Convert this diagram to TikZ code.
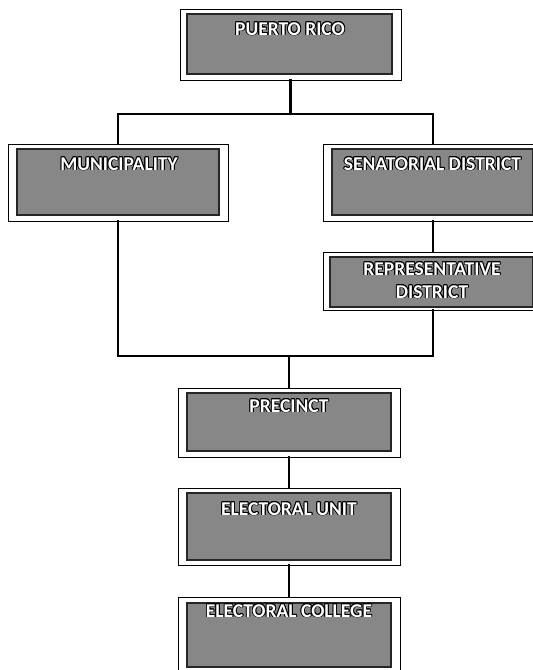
\documentclass[tikz,border=0pt]{standalone}
\usepackage{fontspec}
\setmainfont{Carlito}
\usepackage{contour}
\contourlength{0.9pt}
\contournumber{12}
\begin{document}
\begin{tikzpicture}[x=1pt,y=-1pt,
  outerbox/.style={draw=black, line width=0.9pt, fill=white, inner sep=0pt},
  innerbox/.style={draw=black!85, line width=1.2pt, fill=black!47, inner sep=0pt},
  lbl/.style={text=white, font=\fontsize{19.5}{22}\selectfont\bfseries, inner sep=0pt, anchor=base},
  conn/.style={draw=black, line width=2.2pt, line cap=rect}]
\useasboundingbox (0,0) rectangle (533,670);
% boxes
\node[outerbox, minimum width=221pt, minimum height=71pt] (pr) at (290.5,44.5) {};
\node[innerbox, minimum width=205pt, minimum height=60pt] (pr-in) at (289.5,44) {};
\node[lbl] (pr-t) at (290,35) {\contour{black}{PUERTO RICO}};

\node[outerbox, minimum width=220pt, minimum height=77pt] (mun) at (118,182.5) {};
\node[innerbox, minimum width=202pt, minimum height=66pt] (mun-in) at (118,182) {};
\node[lbl] (mun-t) at (119,170) {\contour{black}{MUNICIPALITY}};

\node[outerbox, minimum width=219pt, minimum height=77pt] (sen) at (433,182.5) {};
\node[innerbox, minimum width=201pt, minimum height=66pt] (sen-in) at (432.5,182) {};
\node[lbl] (sen-t) at (432.5,170) {\contour{black}{SENATORIAL DISTRICT}};

\node[outerbox, minimum width=219pt, minimum height=58pt] (rep) at (433,281) {};
\node[innerbox, minimum width=203pt, minimum height=50pt] (rep-in) at (431.5,282) {};
\node[lbl] (rep-t1) at (432,275) {\contour{black}{REPRESENTATIVE}};
\node[lbl] (rep-t2) at (432,298) {\contour{black}{DISTRICT}};

\node[outerbox, minimum width=222pt, minimum height=69pt] (prec) at (289,422.5) {};
\node[innerbox, minimum width=204pt, minimum height=58pt] (prec-in) at (289,422) {};
\node[lbl] (prec-t) at (289,412) {\contour{black}{PRECINCT}};

\node[outerbox, minimum width=222pt, minimum height=77pt] (eu) at (289,526.5) {};
\node[innerbox, minimum width=204pt, minimum height=67pt] (eu-in) at (289,526.5) {};
\node[lbl] (eu-t) at (289,515) {\contour{black}{ELECTORAL UNIT}};

\node[outerbox, minimum width=222pt, minimum height=78pt] (ec) at (289,636) {};
\node[innerbox, minimum width=204pt, minimum height=64pt] (ec-in) at (289,635) {};
\node[lbl] (ec-t) at (289,617) {\contour{black}{ELECTORAL COLLEGE}};

% junction levels
\coordinate (top) at (0,114);
\coordinate (bot) at (0,356);

% connectors
\draw[conn] (pr.south) -- (pr.south |- top);
\draw[conn] (mun.north) -- (mun.north |- top) -- (sen.north |- top) -- (sen.north);
\draw[conn] (sen.south) -- (rep.north);
\draw[conn] (mun.south) -- (mun.south |- bot) -- (rep.south |- bot) -- (rep.south);
\draw[conn] (prec.north |- bot) -- (prec.north);
\draw[conn] (prec.south) -- (eu.north);
\draw[conn] (eu.south) -- (ec.north);
\end{tikzpicture}
\end{document}
